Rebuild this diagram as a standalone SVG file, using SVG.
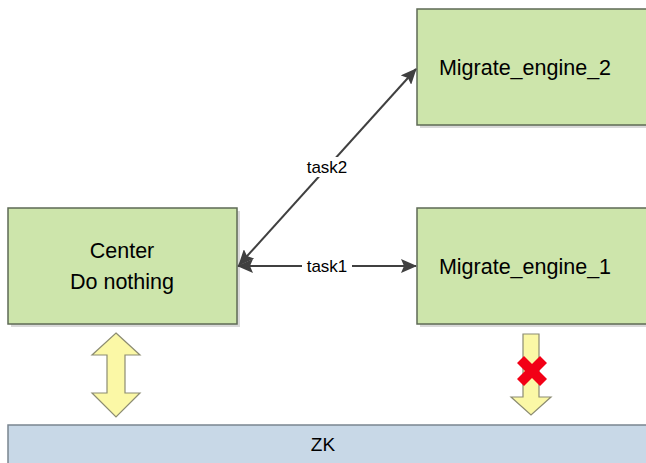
<svg xmlns="http://www.w3.org/2000/svg" width="646" height="463" viewBox="0 0 646 463">
<defs>
<style>
.box{fill:#cde5ab;stroke:#5e6a55;stroke-width:1.5}
.shadow{fill:#d9d9d9}
.t{font-family:"Liberation Sans",Arial,sans-serif;fill:#000;text-anchor:middle}
.big{font-size:21.5px}
.lbl{font-size:17px}
.con{stroke:#404040;stroke-width:2;fill:none}
.ya{fill:#fbf8a6;stroke:#8c8c72;stroke-width:1.2}
</style>
<marker id="ah" viewBox="0 0 16 14" refX="15" refY="7" markerWidth="16" markerHeight="14" markerUnits="userSpaceOnUse" orient="auto-start-reverse">
<path d="M0,0 L16,7 L0,14 L3,7 z" fill="#404040"/>
</marker>
</defs>
<rect width="646" height="463" fill="#fff"/>
<g id="center">
<rect class="shadow" x="11" y="211" width="229" height="116"/>
<rect class="box" x="8" y="208" width="229" height="116"/>
<text class="t big" x="122" y="258">Center</text>
<text class="t big" x="122" y="289">Do nothing</text>
</g>
<g id="engine2">
<rect class="shadow" x="420" y="12" width="240" height="116"/>
<rect class="box" x="417" y="9" width="240" height="116"/>
<text class="t big" x="525" y="75">Migrate_engine_2</text>
</g>
<g id="engine1">
<rect class="shadow" x="420" y="211" width="240" height="116"/>
<rect class="box" x="417" y="208" width="240" height="116"/>
<text class="t big" x="525" y="274">Migrate_engine_1</text>
</g>
<g id="zk">
<rect x="8" y="425" width="650" height="50" fill="#c8d8e7" stroke="#7a8590" stroke-width="1.5"/>
<text class="t big" x="323" y="451" style="font-size:19px">ZK</text>
</g>
<g id="connectors">
<line class="con" x1="238" y1="266" x2="416" y2="266" marker-start="url(#ah)" marker-end="url(#ah)"/>
<line class="con" x1="239" y1="265" x2="416" y2="69" marker-start="url(#ah)" marker-end="url(#ah)"/>
<rect x="302" y="256" width="50" height="20" fill="#fff"/>
<text class="t lbl" x="327" y="272">task1</text>
<rect x="302" y="157" width="50" height="20" fill="#fff"/>
<text class="t lbl" x="327" y="173">task2</text>
</g>
<g id="zk-link-center">
<polygon class="ya" points="116,333 140,355 125,355 125,393 140,393 116,417 92,393 107,393 107,355 92,355"/>
</g>
<g id="zk-link-engine1">
<polygon class="ya" points="523,334 539,334 539,397 551,397 531,415 511,397 523,397"/>
<path d="M524,356 L532,364 L540,356 L547,363 L539,371 L547,379 L540,386 L532,378 L524,386 L517,379 L525,371 L517,363 z" fill="#f20016"/>
</g>
</svg>
